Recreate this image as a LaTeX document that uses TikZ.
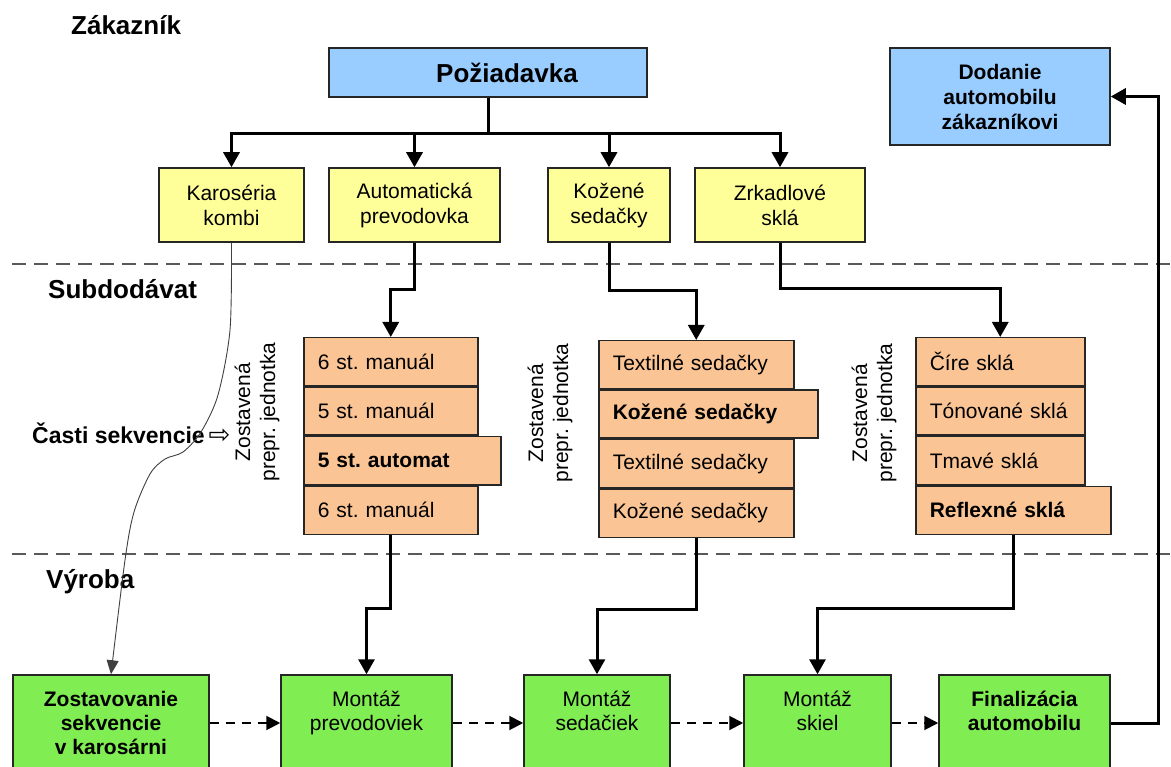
\documentclass[tikz,border=0pt]{standalone}
\usepackage{fontspec}
\setmainfont{Liberation Sans}
\newfontfamily\arrowfont{DejaVu Sans}
\usepackage{xcolor}
\usetikzlibrary{arrows.meta,positioning}
\definecolor{boxblue}{RGB}{153,204,255}
\definecolor{boxyellow}{RGB}{255,255,153}
\definecolor{boxorange}{RGB}{250,196,148}
\definecolor{boxgreen}{RGB}{128,238,82}
\newcommand{\fnorm}{\fontsize{21}{25}\selectfont}
\frenchspacing
\tikzset{
  blkb/.style  = {rectangle, draw=black!85, line width=1.5pt, fill=boxblue,
                  align=center, inner sep=0pt},
  blky/.style  = {rectangle, draw=black!85, line width=1.5pt, fill=boxyellow,
                  align=center, font=\fnorm, minimum height=74pt, inner sep=0pt},
  seqb/.style  = {rectangle, draw=black!85, line width=1.5pt, fill=boxorange,
                  align=left, font=\fnorm, minimum height=48pt, inner xsep=14pt,
                  inner ysep=0pt, text width=#1, anchor=north west},
  seqb/.default = 146pt,
  blkg/.style  = {rectangle, draw=black!85, line width=1.5pt, fill=boxgreen,
                  align=center, font=\fontsize{21}{24}\selectfont,
                  minimum height=96pt, inner sep=0pt},
  lane/.style  = {font=\fontsize{26}{30}\selectfont\bfseries, inner sep=0pt, anchor=west},
  rotl/.style  = {rotate=90, align=center, font=\fnorm, inner sep=0pt},
  fl/.style    = {-{Triangle[length=15pt,width=16pt]}, line width=3pt, black},
  fld/.style   = {-{Triangle[length=14pt,width=14pt]}, line width=2pt, black,
                  dash pattern=on 9pt off 7pt},
  curvy/.style = {-{Triangle[length=14pt,width=12pt]}, line width=0.9pt, black!75},
  lanesep/.style = {draw=black!65, line width=2pt, dash pattern=on 14pt off 8pt},
}

\begin{document}
\begin{tikzpicture}[x=1pt, y=-1pt]
  \useasboundingbox (0,0) rectangle (1171,767);
  \fill[white] (0,0) rectangle (1171,767);
  % pasma
  \draw[lanesep] (12,264) -- (1171,264);
  \draw[lanesep] (12,554) -- (1171,554);
  \node[lane] (zak) at (71,25) {Zákazník};
  \node[lane] (sub) at (48,289) {Subdodávat};
  \node[lane] (vyr) at (46,582) {Výroba};

  % zakaznik
  \node[blkb, minimum width=318pt, minimum height=49pt,
        font=\fontsize{26}{30}\selectfont\bfseries] (poz) at (488,72.5) {\hspace*{38pt}Požiadavka};
  \node[blkb, minimum width=220pt, minimum height=97pt,
        font=\fontsize{21}{25}\selectfont\bfseries] (dod) at (1000,96.5) {Dodanie\\automobilu\\zákazníkovi};
  \node[blky, minimum width=145pt] (kar) at (231.5,205) {Karoséria\\kombi};
  \node[blky, minimum width=171pt] (auto) at (414.5,205) {Automatická\\prevodovka};
  \node[blky, minimum width=122pt] (koz) at (609,205) {Kožené\\sedačky};
  \node[blky, minimum width=170pt] (zrk) at (780,205) {Zrkadlové\\sklá};

  % subdodavatelia
  \node[seqb] (aut1) at (303,337) {6 st. manuál};
  \node[seqb] (aut2) at (aut1.south west) {5 st. manuál};
  \node[seqb=169pt, font=\fnorm\bfseries] (aut3) at (aut2.south west) {5 st. automat};
  \node[seqb] (aut4) at (aut3.south west) {6 st. manuál};
  \node[rotl] (lbaut) at (257,412) {Zostavená\\prepr. jednotka};

  \node[seqb=167pt] (sed1) at (598,340) {Textilné sedačky};
  \node[seqb=191pt, font=\fnorm\bfseries] (sed2) at (sed1.south west) {Kožené sedačky};
  \node[seqb=167pt] (sed3) at (sed2.south west) {Textilné sedačky};
  \node[seqb=167pt] (sed4) at (sed3.south west) {Kožené sedačky};
  \node[rotl] (lbsed) at (550,413) {Zostavená\\prepr. jednotka};

  \node[seqb=141pt] (skl1) at (915,337) {Číre sklá};
  \node[seqb=141pt] (skl2) at (skl1.south west) {Tónované sklá};
  \node[seqb=141pt] (skl3) at (skl2.south west) {Tmavé sklá};
  \node[seqb=167pt, font=\fnorm\bfseries] (skl4) at (skl3.south west) {Reflexné sklá};
  \node[rotl] (lbskl) at (874,413) {Zostavená\\prepr. jednotka};

  \node[anchor=west, inner sep=0pt, font=\fontsize{23}{27}\selectfont\bfseries] (casti) at (32,433)
       {Časti sekvencie\,{\arrowfont\mdseries\fontsize{26}{28}\selectfont ⇨}};

  % vyroba
  \node[blkg, minimum width=196pt, font=\fontsize{21}{24}\selectfont\bfseries] (zost) at (111,723) {Zostavovanie\\sekvencie\\v karosárni};
  \node[blkg, minimum width=171pt] (mprev) at (366.5,723) {Montáž\\prevodoviek\\~};
  \node[blkg, minimum width=146pt] (msed) at (597,723) {Montáž\\sedačiek\\~};
  \node[blkg, minimum width=147pt] (mskl) at (817.5,723) {Montáž\\skiel\\~};
  \node[blkg, minimum width=171pt, font=\fontsize{21}{24}\selectfont\bfseries] (fin) at (1024.5,723) {Finalizácia\\automobilu\\~};

  % spoje
  \draw[fl] (poz.south) -- ++(0,36) -| (kar.north);
  \draw[fl] (poz.south) -- ++(0,36) -| (auto.north);
  \draw[fl] (poz.south) -- ++(0,36) -| (koz.north);
  \draw[fl] (poz.south) -- ++(0,36) -| (zrk.north);
  \draw[fl] (auto.south) -- ++(0,47) -| (aut1.north);
  \draw[fl] (koz.south) -- ++(0,48) -| (sed1.north);
  \draw[fl] (zrk.south) -- ++(0,46) -| (skl1.north);
  \draw[fl] (aut4.south) -- ++(0,73) -| (mprev.north);
  \draw[fl] (sed4.south) -- ++(0,71) -| (msed.north);
  \draw[fl] (skl4.south) -- ++(0,73) -| (mskl.north);
  \draw[fl] (fin.east) -- ++(48,0) |- (dod.east);
  \draw[fld] (zost) -- (mprev);
  \draw[fld] (mprev) -- (msed);
  \draw[fld] (msed) -- (mskl);
  \draw[fld] (mskl) -- (fin);
  \draw[curvy] plot[smooth, tension=0.5] coordinates {(kar.south) (230,330) (218,395)
       (201,432) (183,452) (165,459) (150,474) (134,512) (125,560) (zost.north)};
\end{tikzpicture}
\end{document}
